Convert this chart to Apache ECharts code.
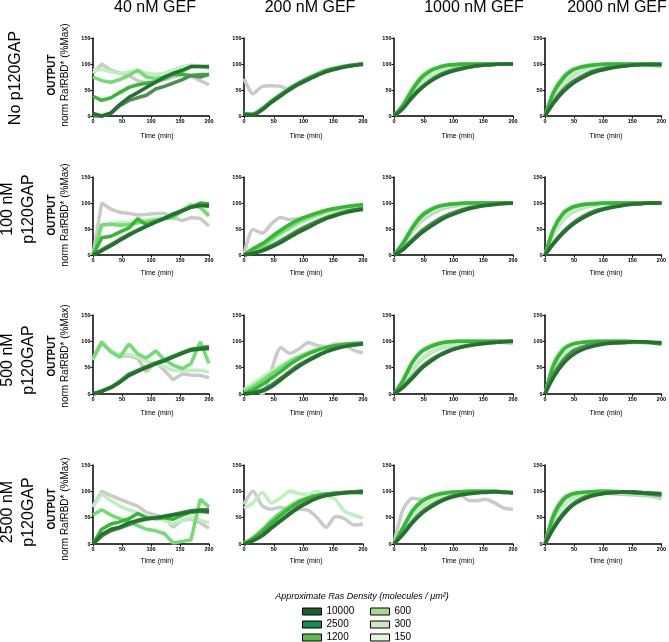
<!DOCTYPE html>
<html>
<head>
<meta charset="utf-8">
<script src="https://cdn.jsdelivr.net/npm/echarts@6/dist/echarts.min.js"></script>
<style>
html,body{margin:0;padding:0;background:#fff;}
#chart{width:669px;height:642px;}
</style>
</head>
<body>
<div id="chart"></div>
<script>
// ---- data ----
const times = [0,15,31,46,62,77,92,108,123,138,154,169,185,200];
const densities = ['10000','2500','1200','600','300','150'];
const gefLabels = ['40 nM GEF','200 nM GEF','1000 nM GEF','2000 nM GEF'];
const gapLabels = ['No p120GAP','100 nM\np120GAP','500 nM\np120GAP','2500 nM\np120GAP'];
const xTicks = [0,50,100,150,200];
const yTicks = [0,50,100,150];

// each panel: [d10000, d2500, d1200, d600, d300, d150]
const gap0_gef40 = [
  [5,0,6,22,36,45,55,65,75,82,88,95,95,95],
  [0,0,5,20,30,35,40,52,57,63,70,78,75,80],
  [38,30,35,45,55,60,63,66,72,80,80,78,80,80],
  [75,68,65,70,78,88,75,72,75,80,85,95,95,93],
  [88,90,85,82,85,88,82,80,82,88,95,98,95,92],
  [82,100,88,83,78,68,64,65,70,75,80,76,68,60]
];
const gap0_gef200 = [
  [3,2,12,26,39,51,61,70,78,85,90,94,97,99],
  [4,3,13,27,40,52,62,71,79,86,91,95,98,100],
  [4,3,14,28,41,53,63,72,80,87,92,95,98,100],
  [5,4,15,29,42,54,64,73,81,88,92,96,98,101],
  [6,4,15,29,42,54,64,73,81,88,93,96,99,101],
  [72,43,57,58,57,50,62,74,80,87,92,95,98,100]
];
const gap0_gef1000 = [
  [0,14,36,53,67,77,84,89,93,96,98,99,100,100],
  [0,15,38,55,69,79,86,91,94,97,98,99,100,100],
  [0,20,50,73,87,94,98,99,100,100,100,100,100,100],
  [0,22,53,76,89,95,98,100,100,100,100,100,100,100],
  [0,18,44,64,78,87,92,95,97,98,99,100,100,100],
  [0,17,42,60,74,84,90,94,96,98,99,100,100,100]
];
const gap0_gef2000 = [
  [0,25,46,61,72,81,87,91,94,96,98,99,99,99],
  [0,28,50,65,76,84,89,93,95,97,98,99,99,99],
  [0,45,72,87,94,97,99,100,100,100,100,100,100,100],
  [0,48,75,89,95,98,99,100,100,100,99,98,97,96],
  [0,38,62,78,87,93,96,98,99,99,100,100,100,100],
  [0,35,60,76,86,92,95,97,98,99,100,100,100,100]
];
const gap100_gef40 = [
  [0,8,18,28,38,47,55,63,70,78,85,92,95,95],
  [0,10,20,30,40,48,56,64,71,79,86,92,96,93],
  [0,33,36,44,52,70,58,65,70,76,85,92,100,98],
  [0,58,59,57,58,62,64,67,70,72,85,95,92,75],
  [0,55,60,62,62,65,68,70,72,70,88,98,90,80],
  [0,100,88,82,80,77,78,80,80,72,66,72,70,56]
];
const gap100_gef200 = [
  [0,3,8,15,24,34,44,53,62,70,76,81,85,88],
  [0,4,10,18,28,38,48,57,65,72,78,83,87,90],
  [0,12,22,35,48,59,68,75,81,86,90,93,95,97],
  [0,10,18,30,43,54,64,72,78,84,88,92,95,96],
  [0,8,16,27,39,50,60,68,75,81,86,90,93,95],
  [0,49,42,60,72,68,70,74,78,82,86,88,88,87]
];
const gap100_gef1000 = [
  [0,10,27,42,55,66,75,82,88,92,95,97,99,100],
  [0,12,30,46,59,70,78,85,90,93,96,98,99,100],
  [0,22,52,74,87,94,97,99,100,100,100,100,100,100],
  [0,24,55,77,89,95,98,99,100,100,100,100,100,100],
  [0,20,48,69,82,90,95,97,98,99,100,100,100,100],
  [0,18,45,65,78,87,92,95,97,98,99,100,100,100]
];
const gap100_gef2000 = [
  [0,22,42,57,69,78,85,90,93,96,98,99,100,100],
  [0,24,45,60,72,81,87,91,94,97,98,99,100,100],
  [0,50,79,91,96,98,99,100,100,100,100,100,100,100],
  [0,52,81,92,97,99,100,100,100,100,100,100,100,100],
  [0,42,68,83,91,95,97,98,99,100,100,100,100,100],
  [0,40,66,81,89,94,96,98,99,99,100,100,100,100]
];
const gap500_gef40 = [
  [0,5,12,22,35,43,50,57,63,70,77,84,86,88],
  [0,5,13,23,37,44,51,58,64,71,78,83,85,86],
  [0,6,13,24,38,45,52,59,65,72,79,85,88,90],
  [68,98,80,70,95,76,68,82,65,55,48,58,99,58],
  [65,95,82,75,75,70,62,58,52,45,44,45,45,42],
  [68,100,80,72,72,68,42,60,45,27,38,36,35,31]
];
const gap500_gef200 = [
  [0,2,6,14,27,40,52,63,72,80,86,90,93,95],
  [0,3,8,17,30,43,55,65,74,81,87,91,94,96],
  [0,8,18,30,43,56,67,76,83,88,92,94,96,97],
  [5,14,26,38,50,61,70,78,84,89,92,95,96,97],
  [8,20,32,43,54,64,72,79,85,89,92,94,96,96],
  [8,12,0,45,88,77,85,98,92,90,95,93,83,78]
];
const gap500_gef1000 = [
  [0,12,30,48,62,73,81,87,91,94,96,98,99,100],
  [0,14,33,51,65,75,83,88,92,95,97,98,99,100],
  [0,25,60,80,90,96,99,100,100,100,100,100,100,100],
  [0,27,62,82,92,97,99,100,100,100,100,100,100,99],
  [0,20,48,68,80,88,93,96,98,99,99,99,98,97],
  [0,18,45,65,78,86,91,94,96,98,99,99,98,96]
];
const gap500_gef2000 = [
  [0,32,57,73,83,89,93,96,97,98,99,99,98,97],
  [0,38,64,80,88,93,96,98,99,99,99,99,98,96],
  [0,55,83,94,98,99,100,100,100,100,99,98,97,95],
  [0,58,86,95,98,100,100,100,100,100,100,99,98,98],
  [0,45,72,85,92,95,97,98,98,99,99,99,99,99],
  [0,42,70,84,91,95,97,97,96,97,98,98,98,98]
];
const gap2500_gef40 = [
  [0,18,28,32,40,45,48,50,52,55,58,62,63,62],
  [0,15,25,30,37,43,47,50,53,56,60,63,65,65],
  [0,28,38,42,48,58,50,48,50,47,55,60,62,60],
  [55,65,55,48,42,35,28,25,20,2,5,8,85,70],
  [70,95,82,72,65,60,52,50,45,38,45,50,45,40],
  [72,100,92,85,78,72,60,55,50,32,45,48,40,30]
];
const gap2500_gef200 = [
  [0,6,16,30,44,57,69,79,87,92,95,97,98,99],
  [0,7,18,32,46,59,71,81,88,93,96,98,99,100],
  [0,10,24,40,55,68,79,87,92,95,97,98,99,100],
  [2,12,28,45,60,72,82,88,92,95,97,98,98,96],
  [68,78,98,78,88,100,96,94,100,92,84,62,55,49],
  [75,100,72,66,70,62,66,64,50,32,52,48,36,38]
];
const gap2500_gef1000 = [
  [0,18,40,57,70,80,87,92,95,97,98,99,98,97],
  [0,20,43,60,73,82,89,93,96,98,99,99,98,97],
  [0,30,62,80,90,95,98,99,100,100,100,100,99,98],
  [0,32,64,82,91,96,98,99,100,100,100,100,99,98],
  [0,25,52,70,82,89,94,96,98,99,99,99,98,97],
  [0,65,87,85,88,92,95,97,84,82,85,78,68,66]
];
const gap2500_gef2000 = [
  [0,30,55,72,83,90,94,97,98,99,98,97,96,95],
  [0,33,58,75,86,92,95,97,98,99,99,98,97,96],
  [0,55,84,95,98,99,100,100,99,98,97,96,94,92],
  [0,52,82,93,97,99,100,100,100,99,98,97,95,93],
  [0,45,72,85,92,95,97,98,98,97,96,95,93,90],
  [0,60,88,95,98,98,97,96,95,94,93,92,90,86]
];

const panelRows = [
  [gap0_gef40, gap0_gef200, gap0_gef1000, gap0_gef2000],
  [gap100_gef40, gap100_gef200, gap100_gef1000, gap100_gef2000],
  [gap500_gef40, gap500_gef200, gap500_gef1000, gap500_gef2000],
  [gap2500_gef40, gap2500_gef200, gap2500_gef1000, gap2500_gef2000]
];

// ---- styling / layout ----
const lineColors = ['#24702e','#4f8d52','#35b735','#72dc72','#bfefbf','#cacaca'];
const legendColors = ['#1c5e2f','#178a45','#5db84e','#a6d891','#cce9c1','#e8f4e2'];
const FONT = '"Liberation Sans", Arial, sans-serif';
const colLeft = [93, 244, 394, 545];
const colWidth = [116, 119, 119, 119];
const rowTop = [38, 177, 315, 465];
const rowHeight = [78, 78, 79, 79];

const grids = [], xAxes = [], yAxes = [], series = [];
let gi = 0;
for (let r = 0; r < 4; r++) {
  for (let c = 0; c < 4; c++) {
    grids.push({left: colLeft[c], top: rowTop[r], width: colWidth[c], height: rowHeight[r], containLabel: false});
    const axisCommon = {
      gridIndex: gi,
      axisLine: {show: true, onZero: false, lineStyle: {color: '#000', width: 1.5}},
      axisTick: {show: true, inside: false, length: 2.5, lineStyle: {color: '#000', width: 1}},
      splitLine: {show: false},
      axisLabel: {color: '#000', fontSize: 5.5, fontWeight: 'bold', fontFamily: FONT, margin: 2.5}
    };
    xAxes.push(Object.assign({type: 'value', min: xTicks[0], max: xTicks[xTicks.length-1], interval: 50}, axisCommon));
    yAxes.push(Object.assign({type: 'value', min: yTicks[0], max: yTicks[yTicks.length-1], interval: 50}, axisCommon));
    const panel = panelRows[r][c];
    for (let k = densities.length - 1; k >= 0; k--) {
      series.push({
        type: 'line',
        name: densities[k],
        xAxisIndex: gi,
        yAxisIndex: gi,
        data: times.map((t, i) => [t, panel[k][i]]),
        showSymbol: false,
        smooth: c === 0 ? false : 0.25,
        lineStyle: {color: lineColors[k], width: 3.5},
        itemStyle: {color: lineColors[k]},
        emphasis: {disabled: true},
        silent: true,
        clip: false
      });
    }
    gi++;
  }
}

const graphics = [];
const colTitleX = [155, 310, 474, 617];
gefLabels.forEach((t, c) => graphics.push({
  type: 'text', x: colTitleX[c], y: 8,
  style: {text: t, font: '16px ' + FONT, fill: '#000', textAlign: 'center', textVerticalAlign: 'middle'}
}));
const rowLabelY = [78, 209, 360, 512];
gapLabels.forEach((t, r) => graphics.push({
  type: 'text', x: r === 0 ? 16 : 18, y: rowLabelY[r], rotation: Math.PI / 2,
  style: {text: t, font: '16px ' + FONT, fill: '#000', textAlign: 'center', textVerticalAlign: 'middle', lineHeight: 21}
}));
const yTitleY = [75, 215, 356, 509];
yTitleY.forEach(y => {
  graphics.push({type: 'text', x: 52.5, y: y, rotation: Math.PI / 2,
    style: {text: 'OUTPUT', font: 'bold 10px ' + FONT, fill: '#000', textAlign: 'center', textVerticalAlign: 'middle'}});
  graphics.push({type: 'text', x: 65.5, y: y, rotation: Math.PI / 2,
    style: {text: 'norm RafRBD* (%Max)', font: '10px ' + FONT, fill: '#000', textAlign: 'center', textVerticalAlign: 'middle'}});
});
const timeX = [157, 306, 458, 606];
const timeY = [136, 273, 413, 561];
timeY.forEach(y => timeX.forEach(x => graphics.push({
  type: 'text', x: x, y: y,
  style: {text: 'Time (min)', font: '7px ' + FONT, fill: '#000', textAlign: 'center', textVerticalAlign: 'middle'}
})));
graphics.push({type: 'text', x: 362, y: 596,
  style: {text: 'Approximate Ras Density (molecules / \u03bcm\u00b2)', font: 'italic 9px ' + FONT, fill: '#000', textAlign: 'center', textVerticalAlign: 'middle'}});

function legendBlock(names, left) {
  return {
    left: left, top: 605, height: 60, padding: 0, orient: 'vertical', icon: 'rect',
    itemWidth: 19, itemHeight: 7, itemGap: 0,
    selectedMode: false,
    textStyle: {fontSize: 10, fontFamily: FONT, color: '#000', lineHeight: 13},
    data: names.map(n => ({name: n, itemStyle: {color: legendColors[densities.indexOf(n)], borderColor: '#000', borderWidth: 1}}))
  };
}

const chart = echarts.init(document.getElementById('chart'), null, {renderer: 'canvas'});
chart.setOption({
  animation: false,
  backgroundColor: '#fff',
  grid: grids,
  xAxis: xAxes,
  yAxis: yAxes,
  series: series,
  legend: [legendBlock(['10000','2500','1200'], 302), legendBlock(['600','300','150'], 370)],
  graphic: {elements: graphics}
});
</script>
</body>
</html>
